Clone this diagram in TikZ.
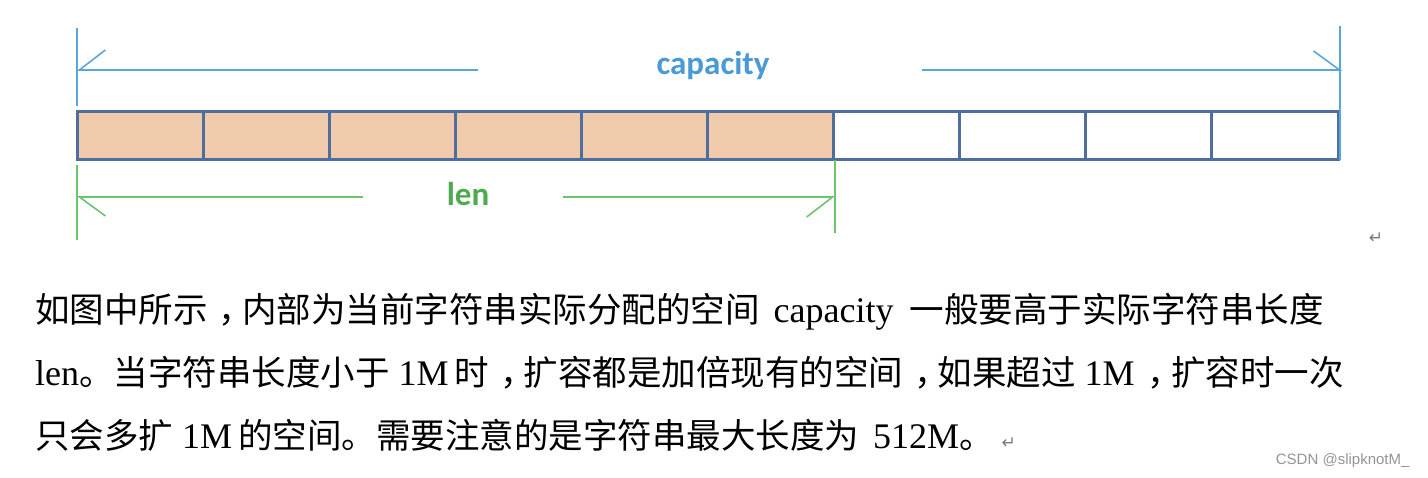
\documentclass[tikz,border=0pt]{standalone}
\usepackage{fontspec}
\setmainfont{Liberation Serif}
\newfontfamily\cjk{Noto Sans CJK SC}
\newfontfamily\lblfont{Carlito}
\newfontfamily\markfont{DejaVu Sans}
\newfontfamily\wmfont{Liberation Sans}
\usetikzlibrary{arrows.meta,positioning}
\definecolor{strCap}{HTML}{5AA5DD}
\definecolor{strCapText}{HTML}{4A9AD6}
\definecolor{strLen}{HTML}{6DC46D}
\definecolor{strLenText}{HTML}{4EAA4E}
\definecolor{strEdge}{HTML}{4F6E9E}
\definecolor{strUsed}{HTML}{F0CBAB}
\definecolor{strMark}{HTML}{7A7A7A}
\newcommand{\zh}[1]{{\cjk\fontsize{34.5}{40}\selectfont #1}}
\newcommand{\zhcomma}{\makebox[1em][l]{\hspace{0.32em}，}}
\tikzset{
  cell/.style={
    draw=strEdge, line width=3pt, minimum width=126.1pt, minimum height=48pt,
    inner sep=0pt, outer sep=0pt, anchor=north west
  },
  usedcell/.style={cell, fill=strUsed},
  freecell/.style={cell, fill=white},
  capline/.style={draw=strCap, line width=1.6pt},
  lenline/.style={draw=strLen, line width=1.6pt},
  barbleft/.style={-{Straight Barb[left, length=26pt, width=38pt]}},
  barbright/.style={-{Straight Barb[right, length=26pt, width=40pt]}},
  dimlabel/.style={font=\lblfont\bfseries\fontsize{33}{33}\selectfont, inner sep=0pt},
  para/.style={font=\fontsize{36}{40}\selectfont, anchor=base west, inner sep=0pt},
  retmark/.style={font=\markfont\fontsize{17}{17}\selectfont, text=strMark, inner sep=0pt}
}
\begin{document}
\begin{tikzpicture}[x=1pt, y=-1pt]
  \useasboundingbox[fill=white] (0,0) rectangle (1428,478);
  % string buffer cells
  \foreach \i in {0,...,5}
    \node[usedcell] (cell\i) at (77+\i*126.1,112) {};
  \foreach \i in {6,...,9}
    \node[freecell] (cell\i) at (77+\i*126.1,112) {};
  % capacity dimension
  \coordinate (capTopL) at (77,28);
  \coordinate (capBotL) at (77,106);
  \coordinate (capTopR) at (1340,26);
  \coordinate (capBotR) at (1340,160);
  \coordinate (capL) at (77,70);
  \coordinate (capR) at (1342,70);
  \coordinate (capGapL) at (478,70);
  \coordinate (capGapR) at (922,70);
  \draw[capline] (capTopL) -- (capBotL);
  \draw[capline] (capTopR) -- (capBotR);
  \draw[capline, barbright] (capGapL) -- (capL);
  \draw[capline, barbleft] (capGapR) -- (capR);
  \node[dimlabel, text=strCapText] (caplabel) at (713,66) {capacity};
  % len dimension
  \coordinate (lenTopL) at (77,165);
  \coordinate (lenBotL) at (77,240);
  \coordinate (lenTopR) at (835,160);
  \coordinate (lenBotR) at (835,233);
  \coordinate (lenL) at (77,197);
  \coordinate (lenR) at (835,197);
  \coordinate (lenGapL) at (363,197);
  \coordinate (lenGapR) at (563,197);
  \draw[lenline] (lenTopL) -- (lenBotL);
  \draw[lenline] (lenTopR) -- (lenBotR);
  \draw[lenline, barbleft] (lenGapL) -- (lenL);
  \draw[lenline, barbright] (lenGapR) -- (lenR);
  \node[dimlabel, text=strLenText] (lenlabel) at (468,194) {len};
  \node[retmark] (mark1) at (1376,238) {↵};
  % description
  \node[para] (line1) at (35,323) {\zh{如图中所示\zhcomma 内部为当前字符串实际分配的空间}\hspace{14pt}capacity\hspace{16pt}\zh{一般要高于实际字符串长度}};
  \node[para] (line2) at (35,385) {len\zh{。当字符串长度小于} 1M\hspace{6pt}\zh{时\zhcomma 扩容都是加倍现有的空间\zhcomma 如果超过} 1M\hspace{2pt}\zh{\zhcomma 扩容时一次}};
  \node[para] (line3) at (35,448) {\zh{只会多扩} 1M\hspace{6pt}\zh{的空间。需要注意的是字符串最大长度为}\hspace{14pt}512M\zh{。}\hspace{8pt}{\markfont\fontsize{17}{17}\selectfont\color{strMark}↵}};
  \node[font=\wmfont\fontsize{15}{15}\selectfont, text=strMark!80, anchor=east] (wm) at (1413,461) {CSDN @slipknotM\_};
\end{tikzpicture}
\end{document}
